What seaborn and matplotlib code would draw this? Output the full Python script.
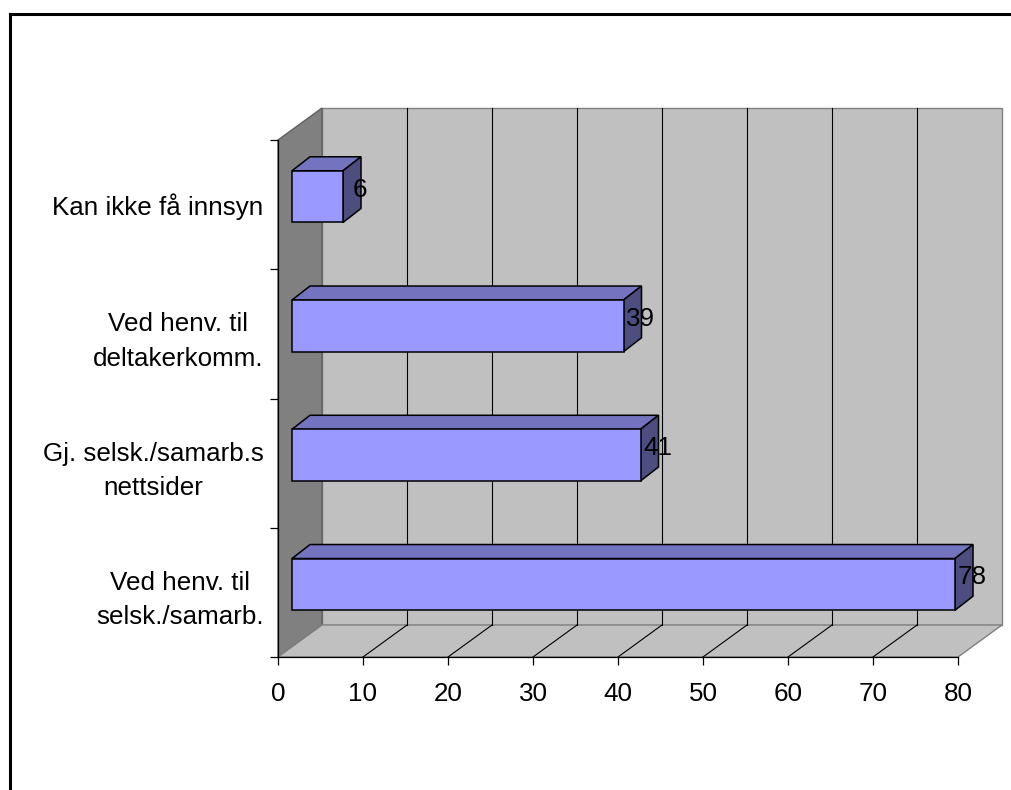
import matplotlib
matplotlib.use("Agg")
import matplotlib.pyplot as plt
import seaborn as sns
import pandas as pd
from matplotlib.patches import Polygon, Rectangle
from matplotlib.lines import Line2D
from matplotlib.transforms import IdentityTransform, ScaledTranslation

# Chart data
categories = [
    "Kan ikke få innsyn",
    "Ved henv. til\ndeltakerkomm.",
    "Gj. selsk./samarb.s\nnettsider",
    "Ved henv. til\nselsk./samarb.",
]
values = [6, 39, 41, 78]
x_ticks = [0, 10, 20, 30, 40, 50, 60, 70, 80]

# Colours (classic office 3-D bar look)
FACE = "#9999FF"
TOP = "#7373BF"
SIDE = "#4D4D80"
WALL = "#C0C0C0"
SIDEWALL = "#808080"

plt.rcParams["font.family"] = ["Liberation Sans", "DejaVu Sans"]
plt.rcParams["font.size"] = 18.7

W, H, DPI = 1011, 790, 100
fig = plt.figure(figsize=(W / DPI, H / DPI), dpi=DPI)
fig.patch.set_facecolor("white")
ax = fig.add_axes([278 / W, 133 / H, 680 / W, 517 / H])
ax.patch.set_visible(False)

df = pd.DataFrame({"kategori": categories, "antall": values})
sns.barplot(data=df, x="antall", y="kategori", orient="h", width=0.4,
            color=FACE, saturation=1, edgecolor="black", linewidth=1.1,
            ax=ax, zorder=5)
bars = [p for p in ax.patches if isinstance(p, Rectangle)]
ax.set_xlim(0, 80)
ax.set_ylim(3.5, -0.5)
ax.set_xlabel("")
ax.set_ylabel("")

# pixel offsets of the 3-D projection
WALL_D = (44, 32)     # depth of the whole box
BAR_F = (14, 8)       # front face of the bars, pushed into the box
BAR_D = (18, 14)      # depth of each bar


def px(x, y, off=(0, 0)):
    X, Y = ax.transData.transform((x, y))
    return (X + off[0], Y + off[1])


def add_poly(pts, fc, ec, lw, z):
    poly = Polygon(pts, closed=True, facecolor=fc, edgecolor=ec, linewidth=lw,
                   transform=IdentityTransform(), clip_on=False, zorder=z,
                   joinstyle="miter")
    ax.add_artist(poly)
    poly.set_clip_on(False)


def add_line(p0, p1, color, lw, z):
    ln = Line2D([p0[0], p1[0]], [p0[1], p1[1]], color=color, linewidth=lw,
                transform=IdentityTransform(), clip_on=False, zorder=z)
    ax.add_artist(ln)
    ln.set_clip_on(False)


y_lo, y_hi = 3.5, -0.5
# walls and floor
add_poly([px(0, y_lo, WALL_D), px(80, y_lo, WALL_D), px(80, y_hi, WALL_D),
          px(0, y_hi, WALL_D)], WALL, SIDEWALL, 1.0, 0.5)
add_poly([px(0, y_hi), px(0, y_hi, WALL_D), px(0, y_lo, WALL_D), px(0, y_lo)],
         SIDEWALL, "#606060", 1.0, 0.6)
add_poly([px(0, y_lo), px(80, y_lo), px(80, y_lo, WALL_D), px(0, y_lo, WALL_D)],
         WALL, SIDEWALL, 1.0, 0.6)

# gridlines on back wall and floor
for t in x_ticks[1:-1]:
    add_line(px(t, y_lo, WALL_D), px(t, y_hi, WALL_D), "black", 0.8, 0.8)
    add_line(px(t, y_lo), px(t, y_lo, WALL_D), "black", 0.8, 0.8)

# 3-D faces of the bars
shift = ScaledTranslation(BAR_F[0] / DPI, BAR_F[1] / DPI, fig.dpi_scale_trans)
for p in bars:
    x0, w = p.get_x(), p.get_width()
    yt, yb = p.get_y(), p.get_y() + p.get_height()
    ftl, ftr = px(x0, yt, BAR_F), px(x0 + w, yt, BAR_F)
    fbr = px(x0 + w, yb, BAR_F)
    btl = (ftl[0] + BAR_D[0], ftl[1] + BAR_D[1])
    btr = (ftr[0] + BAR_D[0], ftr[1] + BAR_D[1])
    bbr = (fbr[0] + BAR_D[0], fbr[1] + BAR_D[1])
    add_poly([ftl, ftr, btr, btl], TOP, "black", 1.1, 4)
    add_poly([ftr, btr, bbr, fbr], SIDE, "black", 1.1, 4)
    p.set_transform(ax.transData + shift)
    p.set_clip_on(False)

# value labels, centred just past the bar end
for i, v in enumerate(values):
    ax.annotate(str(v), xy=(v, i), xytext=(BAR_F[0] + 17, 15),
                textcoords="offset pixels", ha="center", va="center",
                zorder=7, annotation_clip=False)

# axes
for s in ("top", "right"):
    ax.spines[s].set_visible(False)
for s in ("left", "bottom"):
    ax.spines[s].set_color("black")
    ax.spines[s].set_linewidth(0.9)
    ax.spines[s].set_zorder(3)

ax.set_xticks(x_ticks)
ax.set_xticklabels([str(t) for t in x_ticks])
ax.tick_params(axis="x", length=5.8, width=0.9, pad=12, direction="out")

ax.set_yticks([-0.5, 0.5, 1.5, 2.5, 3.5])
ax.set_yticklabels([""] * 5)
ax.tick_params(axis="y", which="major", length=5.8, width=0.9, direction="out")
ax.set_yticks([0, 1, 2, 3], minor=True)
ax.set_yticklabels(categories, minor=True)
ax.tick_params(axis="y", which="minor", length=0, pad=10.5)
for lab in ax.get_yticklabels(minor=True):
    lab.set_multialignment("center")
    lab.set_linespacing(1.55)

# outer frame
fx = 10 / W
fy = 1 - 14 / H
fig.add_artist(Line2D([fx, fx], [0, fy], color="black", linewidth=2.2,
                      transform=fig.transFigure, solid_capstyle="projecting"))
fig.add_artist(Line2D([fx, 1], [fy, fy], color="black", linewidth=2.2,
                      transform=fig.transFigure, solid_capstyle="projecting"))

fig.savefig("out.png", dpi=DPI)
